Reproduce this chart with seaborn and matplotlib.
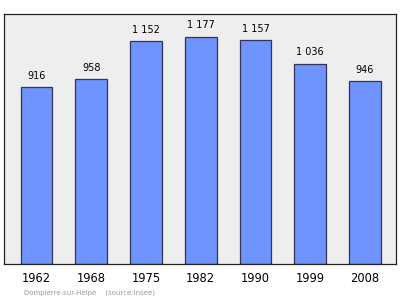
import matplotlib
matplotlib.use("Agg")
import matplotlib.pyplot as plt
import seaborn as sns
import pandas as pd

years = ["1962", "1968", "1975", "1982", "1990", "1999", "2008"]
population = [916, 958, 1152, 1177, 1157, 1036, 946]
labels = ["916", "958", "1 152", "1 177", "1 157", "1 036", "946"]

df = pd.DataFrame({"year": years, "pop": population})

sns.set_theme(style="white")
plt.rcParams['font.family'] = ['DejaVu Sans']

fig = plt.figure(figsize=(4.0, 2.99), dpi=100)
ax = fig.add_axes([4/400, 1 - 264/299, 392/400, 250/299])
ax.set_facecolor("#eeeeee")

sns.barplot(data=df, x="year", y="pop", ax=ax, color="#7094ff", width=0.58,
            edgecolor="#333355", linewidth=0.9, saturation=1)

for i, (v, t) in enumerate(zip(population, labels)):
    ax.text(i, v + 33, t, ha="center", va="bottom", fontsize=7, color="black")

ax.set_xlim(-0.594, 6.566)
ax.set_ylim(0, 1294)
ax.set_yticks([])
ax.set_xlabel("")
ax.set_ylabel("")
ax.tick_params(axis="x", length=0, pad=6, labelsize=8.3, labelcolor="black")
for s in ax.spines.values():
    s.set_color("#222222")
    s.set_linewidth(0.9)

fig.text(24/400, 1 - 293/299, "Dompierre-sur-Helpe    (source:Insee)", fontsize=5,
         color="#999999", va="center", ha="left")

fig.savefig("out.png", dpi=100)
